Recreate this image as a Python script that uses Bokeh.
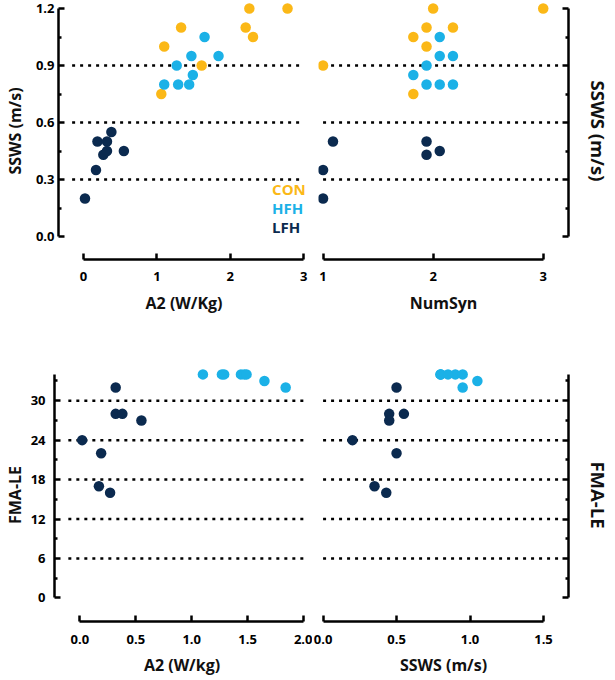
from bokeh.plotting import figure
from bokeh.layouts import column, row
from bokeh.models import Range1d, FixedTicker
from bokeh.embed import file_html
from bokeh.resources import INLINE
from bokeh.core.properties import value

# ---------------- data ----------------
groups = ["CON", "HFH", "LFH"]

con_a2 = [1.10, 1.33, 1.61, 1.06, 2.26, 2.78, 2.21, 2.31]
con_ssws = [1.00, 1.10, 0.90, 0.75, 1.20, 1.20, 1.10, 1.05]
con_numsyn = [1.94, 1.94, 1.00, 1.82, 2.00, 3.00, 2.18, 1.82]

hfh_a2 = [1.10, 1.27, 1.29, 1.44, 1.47, 1.49, 1.65, 1.84]
hfh_ssws = [0.80, 0.90, 0.80, 0.80, 0.95, 0.85, 1.05, 0.95]
hfh_numsyn = [1.94, 1.94, 2.06, 2.18, 2.06, 1.82, 2.06, 2.18]
hfh_fma = [34, 34, 34, 34, 34, 34, 33, 32]

lfh_a2 = [0.02, 0.17, 0.19, 0.27, 0.32, 0.32, 0.38, 0.55]
lfh_ssws = [0.20, 0.35, 0.50, 0.43, 0.50, 0.45, 0.55, 0.45]
lfh_fma = [24, 17, 22, 16, 32, 28, 28, 27]
lfh_ns_numsyn = [1.00, 1.00, 1.09, 1.94, 1.94, 2.06]
lfh_ns_ssws = [0.20, 0.35, 0.50, 0.50, 0.43, 0.45]

ssws_ticks = [0.0, 0.3, 0.6, 0.9, 1.2]
ssws_minor = [0.15, 0.45, 0.75, 1.05]
ssws_grid = [0.3, 0.6, 0.9]
fma_ticks = [0, 6, 12, 18, 24, 30]
fma_minor = [3, 9, 15, 21, 27, 33]
fma_grid = [6, 12, 18, 24, 30]
a2_ticks_top = [0, 1, 2, 3]
numsyn_ticks = [1, 2, 3]
a2_ticks_bot = [0.0, 0.5, 1.0, 1.5, 2.0]
ssws_ticks_bot = [0.0, 0.5, 1.0, 1.5]

COLORS = {"CON": "#FBB817", "HFH": "#1BB1E7", "LFH": "#0B2A4F"}
FONT = "Open Sans"


def rng(v0, p0, v1, p1, e_lo, e_hi):
    s = (p1 - p0) / (v1 - v0)
    a = v0 + (e_lo - p0) / s
    b = v0 + (e_hi - p0) / s
    return (min(a, b), max(a, b))


def style_axis(ax, ticks, labels, minor=None, bounds=None, label_size="16px"):
    ax.ticker = FixedTicker(ticks=ticks, minor_ticks=minor or [])
    ax.major_label_overrides = {t: l for t, l in zip(ticks, labels)}
    ax.axis_line_width = 2.5
    ax.axis_line_color = "black"
    ax.major_tick_in = 6
    ax.major_tick_out = 0
    ax.major_tick_line_width = 2.5
    ax.minor_tick_in = 3
    ax.minor_tick_out = 0
    ax.minor_tick_line_width = 2.5
    if minor is None:
        ax.minor_tick_line_color = None
    ax.major_label_text_font = FONT
    ax.major_label_text_font_style = "bold"
    ax.major_label_text_font_size = "13px"
    ax.major_label_text_color = "black"
    ax.axis_label_text_font = FONT
    ax.axis_label_text_font_style = "bold"
    ax.axis_label_text_font_size = label_size
    ax.axis_label_text_color = "#111111"
    if bounds is not None:
        ax.bounds = bounds


def make_fig(w, h, xr, yr, mbl, mbr, mbt, mbb, yside):
    p = figure(width=w, height=h, x_range=Range1d(*xr), y_range=Range1d(*yr),
               output_backend="svg", toolbar_location=None,
               min_border_left=mbl, min_border_right=mbr,
               min_border_top=mbt, min_border_bottom=mbb,
               y_axis_location=yside)
    p.grid.visible = False
    p.outline_line_color = None
    return p


def dotted(p, vals, x0, x1):
    p.segment(x0=[x0] * len(vals), y0=vals, x1=[x1] * len(vals), y1=vals,
              line_color="black", line_width=2.5, line_dash="3 5")


def dots(p, xs, ys, g):
    p.scatter(xs, ys, size=10.5, color=COLORS[g], line_color=None)


# ---------------- layout (picture px) ----------------
TOP_Y = rng(0, 236, 1.2, 8, 259, 2)
BOT_Y = rng(0, 602, 34, 374, 626, 368)

# Top-left: figure x 0..312, y 0..318
xr = rng(0, 76.7, 3, 303, 51, 309)
p1 = make_fig(312, 318, xr, TOP_Y, 51, 3, 2, 59, "left")
dotted(p1, ssws_grid, xr[0] + (65 - 51) / ((303 - 76.7) / 3), 3)
dots(p1, con_a2, con_ssws, "CON")
dots(p1, hfh_a2, hfh_ssws, "HFH")
dots(p1, lfh_a2, lfh_ssws, "LFH")
style_axis(p1.yaxis[0], ssws_ticks, [f"{t:.1f}" for t in ssws_ticks], ssws_minor, (0, 1.2))
style_axis(p1.xaxis[0], a2_ticks_top, [str(t) for t in a2_ticks_top], None, (0, 3))
p1.yaxis.axis_label = "SSWS (m/s)"
p1.xaxis.axis_label = "A2 (W/Kg)"
p1.yaxis.major_label_standoff = 4
p1.yaxis.axis_label_standoff = 7
p1.xaxis.major_label_standoff = 12
p1.xaxis.axis_label_standoff = 8
p1.text(x=[2.57] * 3, y=[0.252, 0.152, 0.052], text=groups,
        text_color=[COLORS[g] for g in groups], text_font=value(FONT),
        text_font_style="bold", text_font_size="15px",
        text_baseline="middle", text_align="left")

# Top-right: figure x 312..613
xr = rng(1, 322.7, 3, 549, 318, 575)
p2 = make_fig(301, 318, xr, TOP_Y, 6, 38, 2, 59, "right")
dotted(p2, ssws_grid, 1, 3 + (568 - 549) / ((549 - 322.7) / 2))
dots(p2, con_numsyn, con_ssws, "CON")
dots(p2, hfh_numsyn, hfh_ssws, "HFH")
dots(p2, lfh_ns_numsyn, lfh_ns_ssws, "LFH")
style_axis(p2.yaxis[0], ssws_ticks, ["" for t in ssws_ticks], ssws_minor, (0, 1.2), "18.5px")
style_axis(p2.xaxis[0], numsyn_ticks, [str(t) for t in numsyn_ticks], None, (1, 3))
p2.yaxis.major_label_text_font_size = "0px"
p2.yaxis.major_label_standoff = 0
p2.yaxis.axis_label = "SSWS (m/s)"
p2.yaxis.axis_label_standoff = 17
p2.xaxis.axis_label = "NumSyn"
p2.xaxis.major_label_standoff = 12
p2.xaxis.axis_label_standoff = 8

# Bottom-left: figure y 318..678
xr = rng(0, 76.7, 2, 303, 51, 309)
p3 = make_fig(312, 360, xr, BOT_Y, 51, 3, 50, 52, "left")
dotted(p3, fma_grid, xr[0] + (65 - 51) / ((303 - 76.7) / 2), 2)
dots(p3, lfh_a2, lfh_fma, "LFH")
dots(p3, hfh_a2, hfh_fma, "HFH")
style_axis(p3.yaxis[0], fma_ticks, [str(t) for t in fma_ticks], fma_minor, (0, 34))
style_axis(p3.xaxis[0], a2_ticks_bot, [f"{t:.1f}" for t in a2_ticks_bot], None, (0, 2))
p3.yaxis.axis_label = "FMA-LE"
p3.xaxis.axis_label = "A2 (W/kg)"
p3.yaxis.major_label_standoff = 9
p3.yaxis.axis_label_standoff = 2
p3.xaxis.major_label_standoff = 13
p3.xaxis.axis_label_standoff = 7

# Bottom-right
xr = rng(0, 322.7, 1.5, 549.3, 318, 575)
p4 = make_fig(301, 360, xr, BOT_Y, 6, 38, 50, 52, "right")
dotted(p4, fma_grid, 0, 1.5 + (568 - 549.3) / ((549.3 - 322.7) / 1.5))
dots(p4, lfh_ssws, lfh_fma, "LFH")
dots(p4, hfh_ssws, hfh_fma, "HFH")
style_axis(p4.yaxis[0], fma_ticks, ["" for t in fma_ticks], fma_minor, (0, 34), "18.5px")
style_axis(p4.xaxis[0], ssws_ticks_bot, [f"{t:.1f}" for t in ssws_ticks_bot], None, (0, 1.5))
p4.yaxis.major_label_text_font_size = "0px"
p4.yaxis.major_label_standoff = 0
p4.yaxis.axis_label = "FMA-LE"
p4.yaxis.axis_label_standoff = 17
p4.xaxis.axis_label = "SSWS (m/s)"
p4.xaxis.major_label_standoff = 13
p4.xaxis.axis_label_standoff = 7

layout = column(row(p1, p2), row(p3, p4))
open("out.html", "w").write(file_html(layout, INLINE))
